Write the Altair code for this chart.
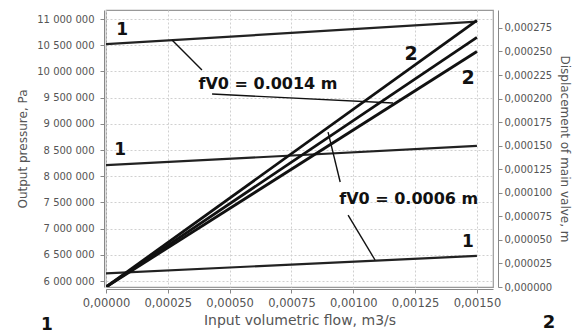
import altair as alt
import pandas as pd

# ---- data ----
flow = [0.0, 0.0015]                      # input volumetric flow, m3/s
series1_names = ["p_high", "p_mid", "p_low"]
p_high = [10520000, 10950000]             # output pressure, Pa
p_mid = [8210000, 8578000]
p_low = [6147000, 6480000]
series2_names = ["d_a", "d_b", "d_c"]
d_a = [0.0, 0.000283]                     # displacement of main valve, m
d_b = [0.0, 0.000265]
d_c = [0.0, 0.000250]

x_ticks = [0.0, 0.00025, 0.0005, 0.00075, 0.001, 0.00125, 0.0015]
yl_ticks = [6000000 + 500000 * i for i in range(11)]
yr_ticks = [0.000025 * i for i in range(12)]

# annotation texts (placed in flow / pressure units)
label_flow = [0.000065, 0.000057, 0.001464]
label_p = [10790000, 8500000, 6744000]
label_txt = ["1", "1", "1"]
label2_flow = [0.001234, 0.001464]
label2_p = [10330000, 9874000]
label2_txt = ["2", "2"]
note_flow = [0.000655, 0.001224]
note_p = [9769000, 7565000]
note_txt = ["fV0 = 0.0014 m", "fV0 = 0.0006 m"]
lead_flow = [0.000267, 0.000429, 0.000898, 0.000979]
lead_p = [10600000, 9569000, 8843000, 7259000]
lead_flow2 = [0.000388, 0.001161, 0.000947, 0.001088]
lead_p2 = [10027000, 9397000, 7889000, 6401000]

FONT = "DejaVu Sans"

df1 = pd.DataFrame({
    "flow": flow * 3,
    "p": p_high + p_mid + p_low,
    "series": sum([[n] * len(flow) for n in series1_names], []),
})
df2 = pd.DataFrame({
    "flow": flow * 3,
    "d": d_a + d_b + d_c,
    "series": sum([[n] * len(flow) for n in series2_names], []),
})

xscale = alt.Scale(domain=[0, 0.001565], nice=False, zero=False)
ylscale = alt.Scale(domain=[5886000, 11172000], nice=False, zero=False)
yrscale = alt.Scale(domain=[0, 0.000294], nice=False, zero=False)

xaxis = alt.Axis(
    title="Input volumetric flow, m3/s", values=x_ticks,
    labelExpr="replace(format(datum.value, '.5f'), '.', ',')",
    offset=2, tickSize=4, labelPadding=4, titlePadding=5, labelOverlap=False,
    labelFlush=False, labelFontSize=11.5, titleFontSize=14, grid=True,
)
ylaxis = alt.Axis(
    title="Output pressure, Pa", values=yl_ticks,
    labelExpr="replace(format(datum.value, ','), regexp(',', 'g'), ' ')",
    offset=2, tickSize=4, labelPadding=6, titlePadding=7, labelOverlap=False,
    labelFlush=False, labelFontSize=10, titleFontSize=12, grid=True,
)
yraxis = alt.Axis(
    title="Displacement of main valve, m", values=yr_ticks, orient="right",
    labelExpr="replace(format(datum.value, '.6f'), '.', ',')",
    offset=5, tickSize=4, labelPadding=2, titlePadding=6, labelOverlap=False,
    labelFlush=False, labelFontSize=10, titleFontSize=12, grid=False,
)

XA = alt.X("flow:Q", scale=xscale, axis=xaxis)
YA = alt.Y("p:Q", scale=ylscale, axis=ylaxis)

lines1 = alt.Chart(df1).mark_line(color="#222222", strokeWidth=2.2, clip=True).encode(
    x=XA, y=YA, detail="series:N",
)

lab1 = alt.Chart(pd.DataFrame({"flow": label_flow, "p": label_p, "t": label_txt})).mark_text(
    font=FONT, fontSize=17, fontWeight="bold", color="#111111"
).encode(x=XA, y=YA, text="t:N")

lab2 = alt.Chart(pd.DataFrame({"flow": label2_flow, "p": label2_p, "t": label2_txt})).mark_text(
    font=FONT, fontSize=19, fontWeight="bold", color="#111111"
).encode(x=XA, y=YA, text="t:N")

leads = alt.Chart(pd.DataFrame({"flow": lead_flow, "p": lead_p, "flow2": lead_flow2, "p2": lead_p2})).mark_rule(
    color="#111111", strokeWidth=1.4
).encode(x=XA, y=YA, x2="flow2:Q", y2="p2:Q")

notes = alt.Chart(pd.DataFrame({"flow": note_flow, "p": note_p, "t": note_txt})).mark_text(
    font=FONT, fontSize=16, fontWeight="bold", color="#111111"
).encode(x=XA, y=YA, text="t:N")

left = alt.layer(lines1, leads, notes, lab1, lab2)

lines2 = alt.Chart(df2).mark_line(color="#111111", strokeWidth=2.8, clip=True).encode(
    x=XA,
    y=alt.Y("d:Q", scale=yrscale, axis=yraxis),
    detail="series:N",
)

corner1 = alt.Chart(pd.DataFrame({"t": ["1"]})).mark_text(
    font=FONT, fontSize=17, fontWeight="bold", color="#111111"
).encode(x=alt.value(-59), y=alt.value(315), text="t:N")
corner2 = alt.Chart(pd.DataFrame({"t": ["2"]})).mark_text(
    font=FONT, fontSize=18, fontWeight="bold", color="#111111"
).encode(x=alt.value(443), y=alt.value(313), text="t:N")

right = alt.layer(lines2)

chart = alt.layer(left, right, corner1, corner2).resolve_scale(y="independent").properties(
    width=387, height=277,
    autosize=alt.AutoSizeParams(type="none"),
    padding={"left": 98, "top": 2, "right": 80, "bottom": 46},
).configure_view(stroke="#999999", strokeWidth=1.2).configure_axis(
    labelColor="#555555", titleColor="#555555", tickColor="#888888",
    domainColor="#888888", gridColor="#d0d0d0", gridDash=[2, 2],
    labelFont=FONT, titleFont=FONT, titleFontWeight="normal",
)

chart.save("out.html", embed_options={"renderer": "svg", "actions": False})
